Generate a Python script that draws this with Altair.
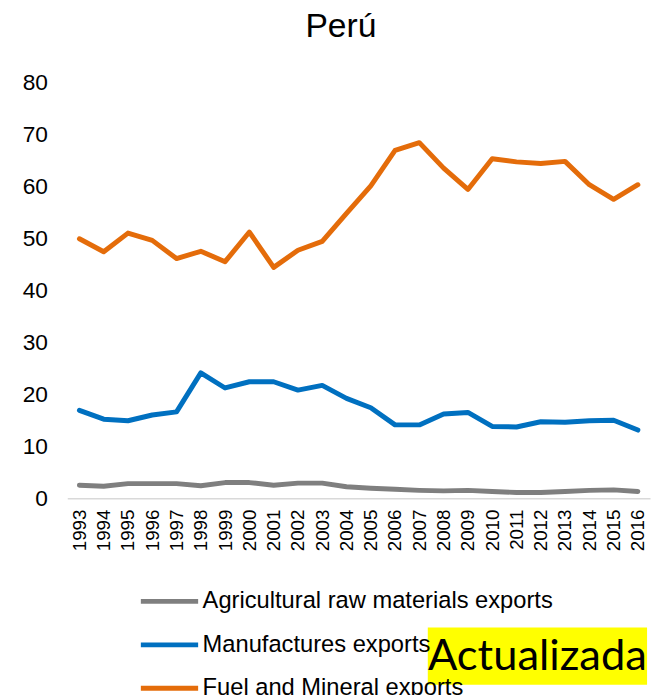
import altair as alt
import pandas as pd

years = [str(y) for y in range(1993, 2017)]
agri = [2.5, 2.3, 2.8, 2.8, 2.8, 2.4, 3.0, 3.0, 2.5, 2.9, 2.9, 2.2, 1.9, 1.7,
        1.5, 1.4, 1.5, 1.3, 1.1, 1.1, 1.3, 1.5, 1.6, 1.3]
manu = [16.9, 15.2, 14.9, 16.0, 16.6, 24.1, 21.2, 22.4, 22.4, 20.8, 21.7, 19.2,
        17.4, 14.1, 14.1, 16.2, 16.5, 13.8, 13.7, 14.7, 14.6, 14.9, 15.0, 13.1]
fuel = [49.9, 47.4, 51.0, 49.6, 46.1, 47.5, 45.5, 51.2, 44.4, 47.7, 49.4, 54.8,
        60.1, 66.9, 68.4, 63.5, 59.4, 65.3, 64.7, 64.4, 64.8, 60.3, 57.5, 60.3]
series_names = ["Agricultural raw materials exports", "Manufactures exports",
                "Fuel and Mineral exports"]
series_colors = ["#7F7F7F", "#0070C0", "#E46C0A"]
y_ticks = [0, 10, 20, 30, 40, 50, 60, 70, 80]

rows = []
for name, vals in zip(series_names, [agri, manu, fuel]):
    for yr, v in zip(years, vals):
        rows.append({"year": yr, "value": v, "series": name})
df = pd.DataFrame(rows)

lines = alt.Chart(df).mark_line(strokeWidth=5, strokeCap="round", strokeJoin="round").encode(
    x=alt.X("year:O", sort=years,
            axis=alt.Axis(title=None, labelAngle=-90, labelFontSize=19, labelColor="black",
                          ticks=False, domainColor="#D9D9D9", domainWidth=1.5, labelPadding=11)),
    y=alt.Y("value:Q", scale=alt.Scale(domain=[0, 80], nice=False),
            axis=alt.Axis(title=None, values=y_ticks, grid=False, domain=False, ticks=False,
                          labelFontSize=23, labelPadding=20, labelColor="black")),
    color=alt.Color("series:N", sort=series_names,
                    scale=alt.Scale(domain=series_names, range=series_colors),
                    legend=alt.Legend(title=None, orient="none", legendX=72, legendY=494,
                                      direction="vertical", symbolType="stroke",
                                      symbolSize=3364, symbolStrokeWidth=5,
                                      labelFontSize=24, labelColor="black", labelLimit=600,
                                      rowPadding=-20, labelOffset=2)),
)

note_df = pd.DataFrame({"label": ["Actualizada"]})
box = alt.Chart(note_df).mark_rect(color="#FFFF00").encode(
    x=alt.value(365), x2=alt.value(587), y=alt.value(552), y2=alt.value(610)
)
note = alt.Chart(note_df).mark_text(font="Lato", fontSize=44, align="center",
                                     baseline="middle", color="black").encode(
    x=alt.value(476), y=alt.value(582), text="label:N"
)

chart = alt.layer(lines, box, note).properties(
    width=590, height=421,
    padding={"left": 60, "top": 71, "right": 2, "bottom": 195},
    autosize="none",
    title=alt.TitleParams("Perú", fontSize=34, fontWeight="normal", color="black",
                          anchor="middle", frame="group", dx=-18, offset=28),
).configure(font="Liberation Sans").configure_view(stroke=None)

chart.save("out.html", embed_options={"renderer": "svg", "actions": False})
